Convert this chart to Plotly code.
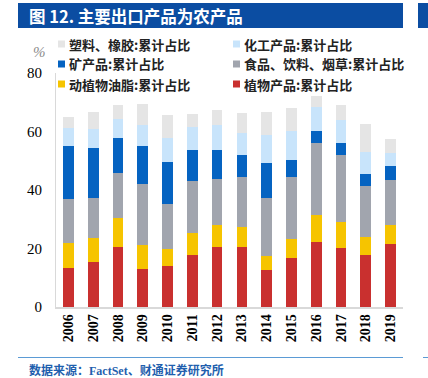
import plotly.graph_objects as go

years = ["2006", "2007", "2008", "2009", "2010", "2011", "2012",
         "2013", "2014", "2015", "2016", "2017", "2018", "2019"]

plant = [13.4, 15.4, 20.5, 13.1, 14.1, 17.7, 20.5, 20.5, 12.5, 16.8, 22.3, 20.2, 17.9, 21.4]
oil = [8.4, 8.1, 10.0, 8.0, 5.7, 7.6, 7.5, 6.8, 5.0, 6.4, 9.1, 8.7, 6.0, 6.6]
food = [15.0, 13.8, 15.3, 21.1, 15.3, 17.8, 15.8, 17.2, 19.9, 21.3, 24.5, 22.9, 17.6, 15.5]
mineral = [18.4, 17.0, 11.9, 12.8, 14.5, 10.7, 9.8, 7.5, 11.9, 5.8, 4.3, 4.3, 3.9, 4.6]
chemical = [5.9, 6.4, 6.6, 7.3, 8.3, 7.8, 8.7, 7.5, 9.6, 10.0, 8.3, 8.0, 7.6, 4.6]
plastic = [3.7, 5.9, 4.8, 7.0, 7.8, 4.5, 5.1, 6.9, 7.7, 7.7, 3.7, 4.8, 9.5, 4.8]

series_names = ["植物产品:累计占比", "动植物油脂:累计占比", "食品、饮料、烟草:累计占比",
                "矿产品:累计占比", "化工产品:累计占比", "塑料、橡胶:累计占比"]
series_values = [plant, oil, food, mineral, chemical, plastic]
series_colors = ["#C9302F", "#F6C400", "#A1A5AE", "#0563C1", "#C8E4FB", "#E5E5E5"]

y_ticks = [0, 20, 40, 60, 80]

title_text = "图 12. 主要出口产品为农产品"
source_parts = ["数据来源：", "FactSet", "、财通证券研究所"]

FIG_W, FIG_H = 428, 378
L, R, T, B = 56, 25, 73, 71
PW = FIG_W - L - R
PH = FIG_H - T - B


def px(x):
    return (x - L) / PW


def py(y):
    return (FIG_H - B - y) / PH


fig = go.Figure()
for name, vals, col in zip(series_names, series_values, series_colors):
    fig.add_trace(go.Bar(x=years, y=vals, name=name, marker=dict(color=col, line=dict(width=0)),
                         showlegend=False))

shapes = []
annotations = []

# title bar
shapes.append(dict(type="rect", xref="paper", yref="paper", x0=px(18), x1=px(403), y0=py(28), y1=py(3),
                   fillcolor="#0B4DA2", line=dict(width=0), layer="below"))
shapes.append(dict(type="rect", xref="paper", yref="paper", x0=px(418), x1=px(430), y0=py(28), y1=py(3),
                   fillcolor="#0B4DA2", line=dict(width=0), layer="below"))
annotations.append(dict(text="<b>" + title_text + "</b>", xref="paper", yref="paper", x=px(27), y=py(15.5),
                        xanchor="left", yanchor="middle", showarrow=False,
                        font=dict(family="Noto Sans CJK SC", size=16.5, color="white")))

# custom legend (order as in reference)
legend_layout = [
    (5, 58, 44), (4, 233, 44),
    (3, 58, 64), (2, 233, 64),
    (1, 58, 84), (0, 233, 84),
]
for idx, lx, ly in legend_layout:
    shapes.append(dict(type="rect", xref="paper", yref="paper", x0=px(lx), x1=px(lx + 7),
                       y0=py(ly + 3.5), y1=py(ly - 3.5), fillcolor=series_colors[idx], line=dict(width=0)))
    annotations.append(dict(text="<b>" + series_names[idx] + "</b>", xref="paper", yref="paper",
                            x=px(lx + 9), y=py(ly), xanchor="left", yanchor="middle", showarrow=False,
                            font=dict(family="Noto Sans CJK SC", size=13, color="#222222")))

# % unit label
annotations.append(dict(text="<i>%</i>", xref="paper", yref="paper", x=px(39), y=py(52),
                        xanchor="center", yanchor="middle", showarrow=False,
                        font=dict(family="Liberation Serif", size=15, color="#8C8C8C")))

# bottom line + source
shapes.append(dict(type="line", xref="paper", yref="paper", x0=px(18), x1=px(403), y0=py(357.5), y1=py(357.5),
                   line=dict(color="#5B9BD5", width=1)))
shapes.append(dict(type="line", xref="paper", yref="paper", x0=px(423), x1=px(430), y0=py(357.5), y1=py(357.5),
                   line=dict(color="#5B9BD5", width=1)))
source_html = ("<b>" + source_parts[0]
               + "<span style=\"font-family:'Liberation Serif'\">" + source_parts[1] + "</span>"
               + source_parts[2] + "</b>")
annotations.append(dict(text=source_html, xref="paper", yref="paper", x=px(27), y=py(369),
                        xanchor="left", yanchor="middle", showarrow=False,
                        font=dict(family="Noto Sans CJK SC", size=12, color="#1F5FAE")))

fig.update_layout(
    width=FIG_W, height=FIG_H,
    margin=dict(l=L, r=R, t=T, b=B, pad=0),
    barmode="stack", bargap=0.57,
    plot_bgcolor="white", paper_bgcolor="white",
    shapes=shapes, annotations=annotations,
    showlegend=False,
)
fig.update_xaxes(type="category", tickangle=-90, showline=True, linecolor="#D9D9D9", linewidth=1.5,
                 showgrid=False, zeroline=False, ticks="",
                 tickfont=dict(family="Liberation Serif", size=14, color="#000000"),
                 tickprefix="<b>", ticksuffix="</b>")
fig.update_yaxes(range=[0, 80], tickvals=y_ticks, showline=True, linecolor="#D9D9D9", linewidth=1,
                 showgrid=False, zeroline=False, ticks="", ticklabelstandoff=10,
                 tickfont=dict(family="Liberation Serif", size=15, color="#000000"))

fig.write_html("out.html", config={"displayModeBar": False},
               post_script="document.body.style.margin='0';document.body.style.overflow='hidden';")
